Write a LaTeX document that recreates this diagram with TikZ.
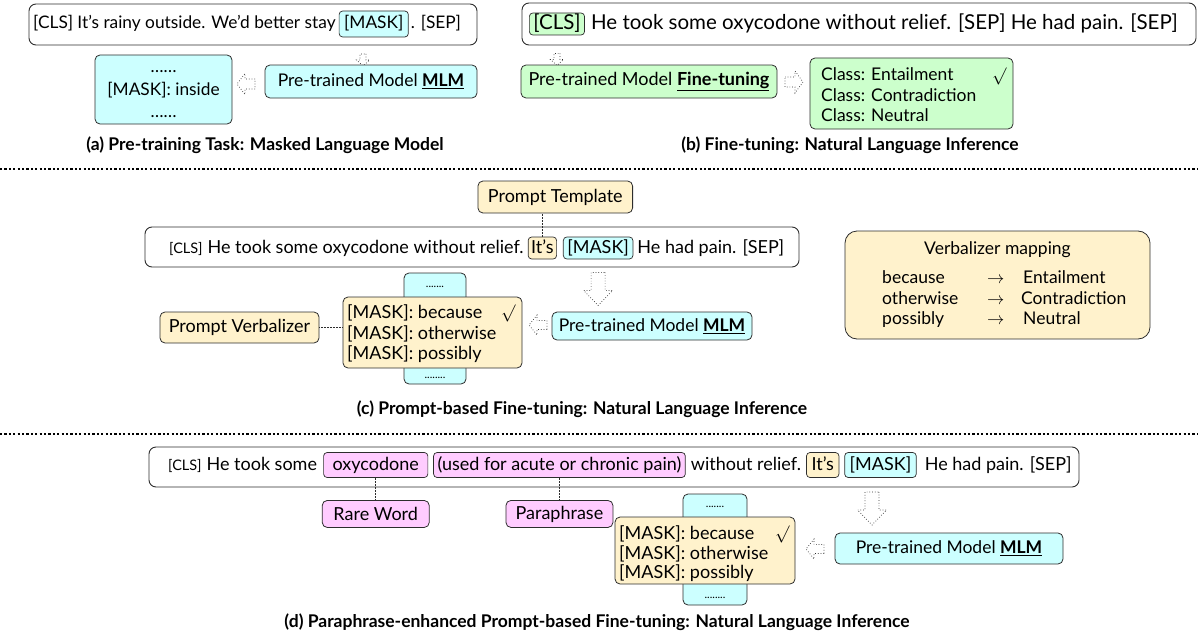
\documentclass[tikz,border=0pt]{standalone}
\usepackage{fontspec}
\setmainfont{Lato}
\usetikzlibrary{calc}
\definecolor{cy}{RGB}{204,255,255}
\definecolor{gr}{RGB}{204,255,204}
\definecolor{ye}{RGB}{255,242,204}
\definecolor{pk}{RGB}{255,204,255}
\definecolor{ln}{RGB}{45,45,45}
\newcommand\szA{\fontsize{17.3}{20}\selectfont}
\newcommand\szB{\fontsize{20.5}{22}\selectfont}
\newcommand\szC{\fontsize{18}{20}\selectfont}
\newcommand\szF{\fontsize{18}{20}\selectfont}
\newcommand\szM{\fontsize{17.5}{20}\selectfont}
\newcommand\szK{\fontsize{17.5}{20}\selectfont}
\newcommand\szS{\fontsize{14.5}{16}\selectfont}
\newcommand\szCap{\fontsize{17.5}{20}\selectfont}
\newcommand\szV{\fontsize{17.5}{20}\selectfont}
\newcommand\szD{\fontsize{11}{12}\selectfont}
\newcommand\MLMword{\textbf{\underline{MLM}}}
\tikzset{
  txt/.style={anchor=base west, inner sep=0pt},
  ctxt/.style={anchor=base, inner sep=0pt},
  tagbox/.style={anchor=base west, draw=ln, line width=0.7pt, rounded corners=3.5pt,
    inner xsep=5pt, inner ysep=2.5pt, text height=13.5pt, text depth=3.5pt},
  cbox/.style={draw=ln, line width=0.8pt, rounded corners=5pt, inner sep=2pt},
  outer/.style={draw=ln, line width=0.9pt, rounded corners=7pt, inner sep=0pt},
  conn/.style={draw=ln, densely dotted, line width=0.5pt},
  captxt/.style={font=\szCap\bfseries, inner sep=0pt, anchor=base},
  sepline/.style={line width=2.4pt, dash pattern=on 2.2pt off 2.2pt},
  pics/barrow/.style n args={4}{code={
    \draw[draw=ln, dotted, line width=0.7pt, fill=white]
      (0,-#3/2) -- (#1-#4,-#3/2) -- (#1-#4,-#2/2) -- (#1,0) -- (#1-#4,#2/2)
      -- (#1-#4,#3/2) -- (0,#3/2) -- cycle;}}
}
\begin{document}
\begin{tikzpicture}[x=1pt,y=-1pt]
\useasboundingbox (0,0) rectangle (1198,642);

% ---------------- (a) ----------------
\node[outer, minimum width=448pt, minimum height=41pt] (boxa) at (253,24.5) {};
\node[txt, font=\szA] (a1) at (33,29) {[CLS] It’s rainy outside. We’d better stay};
\node[tagbox, fill=cy, font=\szA, inner ysep=4.5pt, inner xsep=5pt] (amask) at ($(a1.base east)+(3,0)$) {[MASK]};
\node[txt, font=\szA] (a2) at ($(amask.base east)+(2,0)$) {. [SEP]};
\pic[rotate=-90] at (363,54) {barrow={12}{13}{6}{6}};
\node[cbox, fill=cy, minimum width=212pt, minimum height=33pt, font=\szM] (mlma) at (371,81.5) {Pre-trained Model \MLMword};
\pic[rotate=180] at (255,84) {barrow={18}{21}{10}{8}};
\node[cbox, fill=cy, minimum width=137pt, minimum height=69pt] (outa) at (163.5,89.5) {};
\node[ctxt, font=\szA] (oa1) at (163.5,72) {……};
\node[ctxt, font=\szA] (oa2) at (163.5,95.5) {[MASK]: inside};
\node[ctxt, font=\szA] (oa3) at (163.5,117) {……};
\node[captxt] (capa) at (265,150) {(a) Pre-training Task: Masked Language Model};

% ---------------- (b) ----------------
\node[outer, minimum width=674pt, minimum height=42pt] (boxb) at (859,24) {};
\node[tagbox, fill=gr, font=\szB, text height=15.5pt, text depth=3.5pt, inner ysep=1.5pt, inner xsep=4pt] (bcls) at (529,30) {[CLS]};
\node[txt, font=\szB] (b1) at ($(bcls.base east)+(6,0)$) {He took some oxycodone without relief. [SEP] He had pain. [SEP]};
\pic[rotate=-90] at ($(bcls.center |- boxb.south)+(0,8)$) {barrow={12}{13}{6}{6}};
\node[cbox, fill=gr, minimum width=256pt, minimum height=33pt, font=\szF] (ftb) at (649,81.5) {Pre-trained Model \textbf{\underline{Fine-tuning}}};
\pic at (785,82) {barrow={18}{22}{10}{8}};
\node[cbox, fill=gr, minimum width=203pt, minimum height=71pt] (clsb) at (911.5,93.5) {};
\node[txt, font=\szK] (cl1) at (821,81) {Class: Entailment};
\node[txt, font=\szK] (cl2) at (821,101) {Class: Contradiction};
\node[txt, font=\szK] (cl3) at (821,121) {Class: Neutral};
\node[txt, font=\szK] (clchk) at (992,81) {$\surd$};
\node[captxt] (capb) at (850,150) {(b) Fine-tuning: Natural Language Inference};

\draw[sepline] (0,169) -- (1198,169);

% ---------------- (c) ----------------
\node[cbox, fill=ye, minimum height=32pt, font=\szC, inner xsep=10pt, anchor=east] (tmpl) at (633,197) {Prompt Template};
\node[outer, minimum width=654pt, minimum height=40pt] (boxc) at (472,247) {};
\node[txt, font=\szS] (c0) at (169,253) {[CLS]};
\node[txt, font=\szC] (c1) at (c0.base east) {\ He took some oxycodone without relief.};
\node[tagbox, fill=ye, font=\szC, inner xsep=3pt] (cits) at ($(c1.base east)+(4,0)$) {It’s};
\node[tagbox, fill=cy, font=\szC, inner xsep=4pt] (cmask) at ($(cits.base east)+(6,0)$) {[MASK]};
\node[txt, font=\szC] (c2) at ($(cmask.base east)+(4,0)$) {He had pain. [SEP]};
\draw[conn] (cits.north) -- (cits.north |- tmpl.south);
\pic[rotate=-90] at ($(cmask.center |- boxc.south)+(0,5)$) {barrow={33}{29}{14}{15}};
\node[cbox, fill=cy, minimum width=200pt, minimum height=28pt, font=\szM] (mlmc) at (652,326) {Pre-trained Model \MLMword};
\pic[rotate=180] at (547,325) {barrow={18}{20}{9}{8}};
\node[cbox, fill=cy, minimum width=62pt, minimum height=111pt] (cyc) at (435,328.5) {};
\node[ctxt, font=\szD] (cdt1) at (435,287) {.......};
\node[ctxt, font=\szD] (cdt2) at (435,378) {........};
\node[cbox, fill=ye, minimum width=179pt, minimum height=71pt] (yec) at (432.5,332.5) {};
\node[txt, font=\szC] (yc1) at (347,318) {[MASK]: because};
\node[txt, font=\szC] (yc2) at (347,339) {[MASK]: otherwise};
\node[txt, font=\szC] (yc3) at (347,359) {[MASK]: possibly};
\node[txt, font=\szC] (ycchk) at (501,318) {$\surd$};
\node[cbox, fill=ye, minimum width=159pt, minimum height=31pt, font=\szC] (pv) at (239.5,327.5) {Prompt Verbalizer};
\draw[conn] (pv.east) -- (pv.east -| yec.west);
\node[cbox, fill=ye, rounded corners=12pt, minimum width=305pt, minimum height=108pt] (vm) at (997.5,285) {};
\node[ctxt, font=\szV] (vmt) at (997.5,254) {Verbalizer mapping};
\node[txt, font=\szV] (vm11) at (882,283) {because};
\node[txt, font=\szV] (vm21) at (882,304) {otherwise};
\node[txt, font=\szV] (vm31) at (882,324) {possibly};
\node[txt, font=\szV] (vm12) at (987,283) {$\rightarrow$};
\node[txt, font=\szV] (vm22) at (987,304) {$\rightarrow$};
\node[txt, font=\szV] (vm32) at (987,324) {$\rightarrow$};
\node[txt, font=\szV] (vm13) at (1023,283) {Entailment};
\node[txt, font=\szV] (vm23) at (1021,304) {Contradiction};
\node[txt, font=\szV] (vm33) at (1023,324) {Neutral};
\node[captxt] (capc) at (582,414) {(c) Prompt-based Fine-tuning: Natural Language Inference};

\draw[sepline] (0,434) -- (1198,434);

% ---------------- (d) ----------------
\node[outer, minimum width=930pt, minimum height=40pt] (boxd) at (614,467) {};
\node[txt, font=\szS] (d0) at (168,470) {[CLS]};
\node[txt, font=\szC] (d1) at (d0.base east) {\ He took some};
\node[tagbox, fill=pk, font=\szC, inner ysep=4pt, inner xsep=9pt] (doxy) at ($(d1.base east)+(6,0)$) {oxycodone};
\node[tagbox, fill=pk, font=\szC, inner ysep=4pt, inner xsep=4pt] (dused) at ($(doxy.base east)+(5,0)$) {(used for acute or chronic pain)};
\node[txt, font=\szC] (d2) at ($(dused.base east)+(5,0)$) {without relief.};
\node[tagbox, fill=ye, font=\szC, inner ysep=4pt, inner xsep=5pt] (dits) at ($(d2.base east)+(5,0)$) {It’s};
\node[tagbox, fill=cy, font=\szC, inner ysep=4pt, inner xsep=5pt] (dmask) at ($(dits.base east)+(5,0)$) {[MASK]};
\node[txt, font=\szC] (d3) at ($(dmask.base east)+(8,0)$) {He had pain. [SEP]};
\node[cbox, fill=pk, minimum width=107pt, minimum height=27pt, font=\szC] (rw) at ($(doxy.center |- boxd.south)+(0,26.5)$) {Rare Word};
\node[cbox, fill=pk, minimum width=107pt, minimum height=27pt, font=\szC] (pp) at ($(dused.center |- boxd.south)+(0,26.5)$) {Paraphrase};
\draw[conn] (doxy.south) -- (rw.north);
\draw[conn] (dused.south) -- (pp.north);
\pic[rotate=-90] at (872,492) {barrow={33}{29}{14}{15}};
\node[cbox, fill=cy, minimum width=228pt, minimum height=31pt, font=\szM] (mlmd) at (949,548.5) {Pre-trained Model \MLMword};
\pic[rotate=180] at (824,549) {barrow={18}{20}{9}{8}};
\node[cbox, fill=cy, minimum width=64pt, minimum height=111pt] (cyd) at (715,549.5) {};
\node[ctxt, font=\szD] (ddt1) at (715,507) {.......};
\node[ctxt, font=\szD] (ddt2) at (715,598) {........};
\node[cbox, fill=ye, minimum width=180pt, minimum height=67pt] (yed) at (705,550.5) {};
\node[txt, font=\szC] (yd1) at (619,539) {[MASK]: because};
\node[txt, font=\szC] (yd2) at (619,559) {[MASK]: otherwise};
\node[txt, font=\szC] (yd3) at (619,578) {[MASK]: possibly};
\node[txt, font=\szC] (ydchk) at (775,539) {$\surd$};
\node[captxt] (capd) at (597,627) {(d) Paraphrase-enhanced Prompt-based Fine-tuning: Natural Language Inference};
\end{tikzpicture}
\end{document}
